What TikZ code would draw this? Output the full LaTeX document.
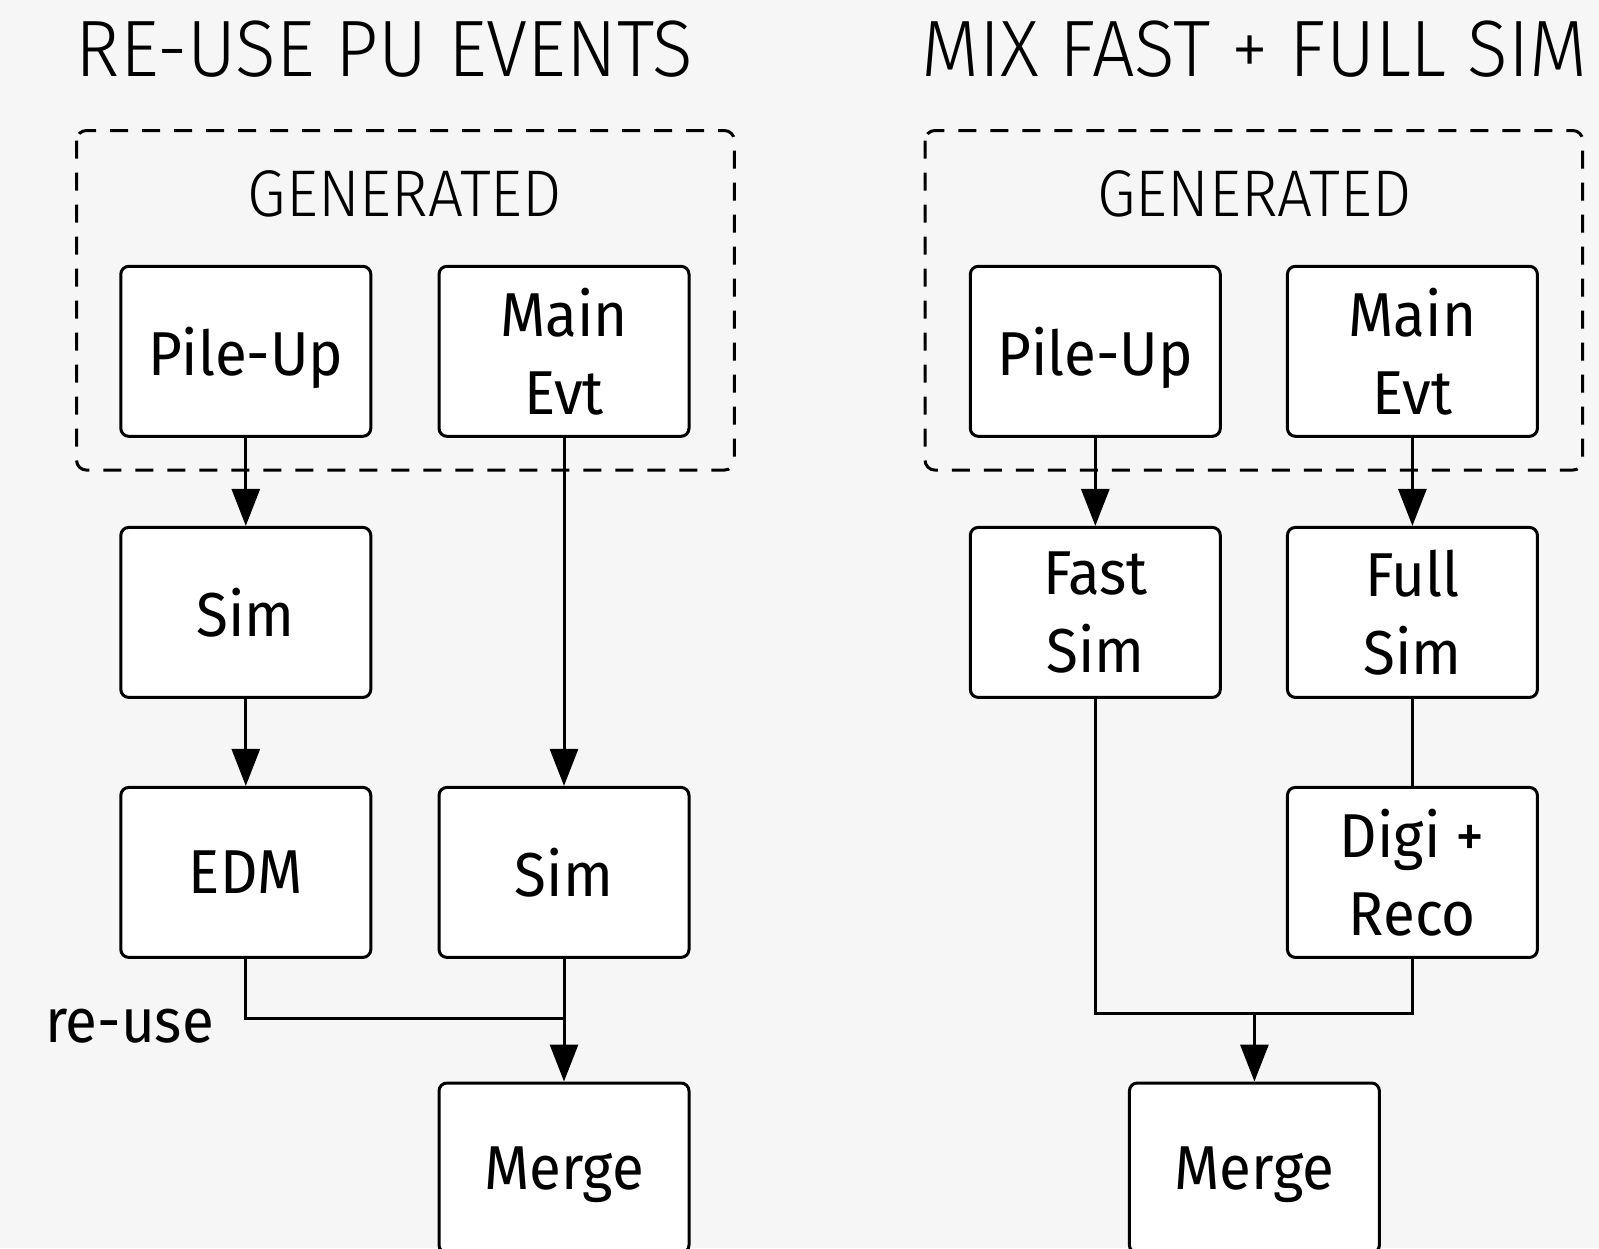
\documentclass[tikz,border=0pt]{standalone}
\usepackage{fontspec}
\setmainfont[FakeStretch=0.94]{Fira Sans}
\newfontfamily\lightfont[FakeStretch=0.94]{Fira Sans Light}
\usetikzlibrary{arrows.meta}
\definecolor{bg}{HTML}{F6F6F6}
\tikzset{
  stage/.style={draw, line width=1.5pt, rounded corners=4pt, fill=white,
    minimum width=125pt, minimum height=85pt, align=center,
    font=\fontsize{31pt}{39pt}\selectfont, inner sep=0pt},
  flat/.style={text depth=0pt},
  group/.style={draw, line width=1.5pt, dashed, dash pattern=on 9pt off 7pt, rounded corners=5pt},
  title/.style={font=\lightfont\fontsize{40pt}{48pt}\selectfont, inner sep=0pt},
  grouptitle/.style={font=\lightfont\fontsize{33pt}{40pt}\selectfont, inner sep=0pt},
  flow/.style={line width=1.5pt, -{Triangle[length=18.5pt,width=14pt]}},
  link/.style={line width=1.5pt}
}
\begin{document}
\begin{tikzpicture}[x=0.5pt,y=-0.5pt]
  \fill[bg] (0,0) rectangle (1599,1248);
  \useasboundingbox (0,0) rectangle (1599,1248);
  \begin{scope}
  \clip (0,0) rectangle (1599,1248);

  % ---- left: re-use PU events ----
  \node[title] (tl) at (384.5,49) {RE-USE PU EVENTS};
  \draw[group] (76.5,130.5) rectangle (734.3,470.1);
  \node[grouptitle] (gl) at (404.9,193.8) {GENERATED};
  \node[stage, flat] (pu1) at (245.8,351.3) {Pile-Up};
  \node[stage] (me1) at (564,351.3) {Main\\Evt};
  \node[stage] (sim1) at (245.8,612.4) {Sim};
  \node[stage] (edm) at (245.8,872.4) {EDM};
  \node[stage] (sim2) at (564,872.4) {Sim};
  \node[stage, flat] (mg1) at (564,1168) {Merge};
  \node[font=\fontsize{31pt}{39pt}\selectfont, anchor=base, inner sep=0pt] (reuse) at (129.5,1042) {re-use};
  \coordinate (j1) at (564,1018.8);

  \draw[flow] (pu1.south) -- (sim1.north);
  \draw[flow] (sim1.south) -- (edm.north);
  \draw[flow] (me1.south) -- (sim2.north);
  \draw[link] (edm.south) |- (j1);
  \draw[flow] (sim2.south) -- (mg1.north);

  % ---- right: mix fast + full sim ----
  \node[title] (tr) at (1254.4,49) {MIX FAST + FULL SIM};
  \draw[group] (925,130.5) rectangle (1582.7,470.1);
  \node[grouptitle] (gr) at (1254.4,193.8) {GENERATED};
  \node[stage, flat] (pu2) at (1095.3,351.3) {Pile-Up};
  \node[stage] (me2) at (1412.4,351.3) {Main\\Evt};
  \node[stage] (fast) at (1095.3,612.4) {Fast\\Sim};
  \node[stage] (full) at (1412.4,612.4) {Full\\Sim};
  \node[stage] (digi) at (1412.4,872.4) {Digi +\\Reco};
  \node[stage, flat] (mg2) at (1254.4,1168) {Merge};
  \coordinate (j2) at (1254.4,1013.7);

  \draw[flow] (pu2.south) -- (fast.north);
  \draw[flow] (me2.south) -- (full.north);
  \draw[link] (full.south) -- (digi.north);
  \draw[link] (fast.south) |- (j2) -| (digi.south);
  \draw[flow] (j2) -- (mg2.north);
  \end{scope}
\end{tikzpicture}
\end{document}
